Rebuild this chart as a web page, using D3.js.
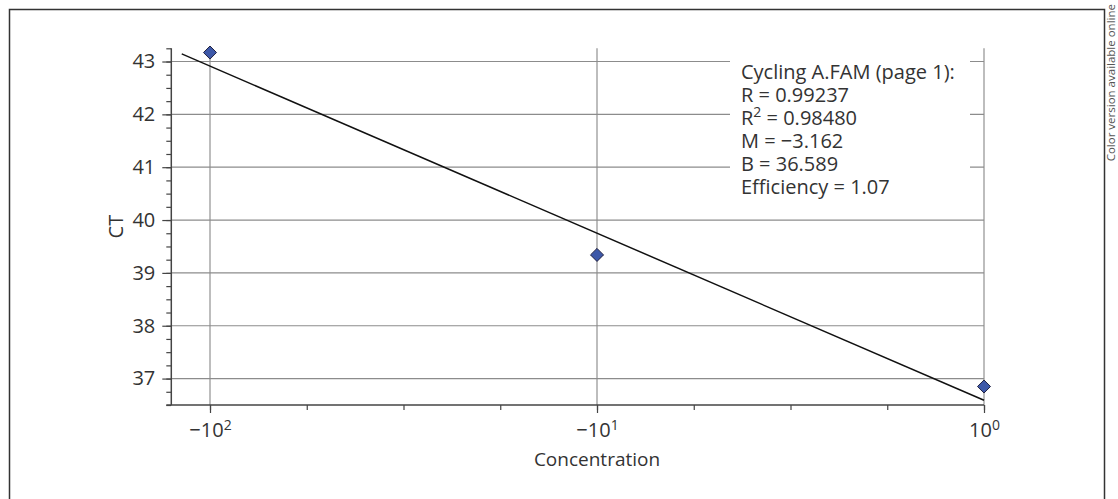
<!DOCTYPE html>
<html>
<head>
<meta charset="utf-8">
<script src="https://cdn.jsdelivr.net/npm/d3@7"></script>
<style>
  html, body { margin: 0; padding: 0; background: #fff; }
  svg { display: block; font-family: "Open Sans", sans-serif; }
</style>
</head>
<body>
<svg id="chart" width="1118" height="499"></svg>
<script>
// ---- data ----
const logConcentration = [-2, -1, 0];
const ctValues = [43.17, 39.34, 36.85];
const xTickValues = [-2, -1, 0];
const xTickBase = ["\u221210", "\u221210", "10"];
const xTickExp = ["2", "1", "0"];
const yTickValues = [37, 38, 39, 40, 41, 42, 43];
const fitSlope = -3.162;
const fitIntercept = 36.589;
const fitRange = [-2.073, 0];
const legendLines = [
  ["Cycling A.FAM (page 1):"],
  ["R = 0.99237"],
  ["R", "2", " = 0.98480"],
  ["M = \u22123.162"],
  ["B = 36.589"],
  ["Efficiency = 1.07"]
];
const xLabel = "Concentration";
const yLabel = "CT";
const sideNote = "Color version available online";

// ---- layout ----
const svg = d3.select("#chart");
const textColor = "#333";
const x = d3.scaleLinear().domain([-2.1, 0]).range([171.3, 984]);
const y = d3.scaleLinear().domain([36.5, 43.25]).range([405, 48.3]);
const [x0, x1] = x.range();
const [yb, yt] = y.range();

// frame
svg.append("rect").attr("x", 9.5).attr("y", 9.5).attr("width", 1095).attr("height", 520)
  .attr("fill", "none").attr("stroke", "#333").attr("stroke-width", 1.5);

// side note
svg.append("text")
  .attr("transform", "translate(1115,4) rotate(-90)")
  .attr("text-anchor", "end")
  .attr("font-size", 11.5).attr("fill", "#555")
  .text(sideNote);

// gridlines
svg.append("g").selectAll("line").data(xTickValues).join("line")
  .attr("x1", d => x(d)).attr("x2", d => x(d))
  .attr("y1", yt).attr("y2", yb)
  .attr("stroke", "#bdbdbd").attr("stroke-width", 2);
svg.append("g").selectAll("line").data(yTickValues).join("line")
  .attr("x1", x0).attr("x2", x1)
  .attr("y1", d => y(d)).attr("y2", d => y(d))
  .attr("stroke", "#8c8c8c").attr("stroke-width", 1.2);

// legend background
svg.append("rect").attr("x", 730).attr("y", 50).attr("width", 240).attr("height", 160).attr("fill", "#fff");

// axes
const yMinor = d3.range(36.5, 43.26, 0.25);
const xMinor = d3.range(-2, 0.001, 0.25);
svg.append("g").attr("transform", `translate(${x0},0)`)
  .call(d3.axisLeft(y).tickValues(yMinor).tickSize(5).tickFormat(""))
  .call(g => g.select(".domain").remove())
  .call(g => g.selectAll("line").attr("stroke", "#444").attr("stroke-width", 1.2));
svg.append("g").attr("transform", `translate(${x0},0)`)
  .call(d3.axisLeft(y).tickValues(yTickValues).tickSize(9).tickPadding(7).tickFormat(d3.format("d")))
  .call(g => g.select(".domain").remove())
  .call(g => g.selectAll("line").attr("stroke", "#444").attr("stroke-width", 1.2))
  .call(g => g.selectAll("text").attr("font-size", 20).attr("fill", textColor).attr("font-family", "Open Sans"));
svg.append("g").attr("transform", `translate(0,${yb})`)
  .call(d3.axisBottom(x).tickValues(xMinor).tickSize(5).tickFormat(""))
  .call(g => g.select(".domain").remove())
  .call(g => g.selectAll("line").attr("stroke", "#444").attr("stroke-width", 1.2));
const xAxisG = svg.append("g").attr("transform", `translate(0,${yb})`)
  .call(d3.axisBottom(x).tickValues(xTickValues).tickSize(8).tickPadding(10).tickFormat(""))
  .call(g => g.select(".domain").remove())
  .call(g => g.selectAll("line").attr("stroke", "#444").attr("stroke-width", 1.2));
xAxisG.selectAll(".tick text").each(function(d, i) {
  const t = d3.select(this).attr("font-size", 20).attr("fill", textColor).attr("font-family", "Open Sans")
    .attr("dy", "0.71em");
  t.append("tspan").text(xTickBase[i]);
  t.append("tspan").attr("font-size", 14).attr("dy", "-0.55em").text(xTickExp[i]);
});
// axis lines
svg.append("line").attr("x1", x0).attr("x2", x0).attr("y1", yt).attr("y2", yb)
  .attr("stroke", "#444").attr("stroke-width", 1.5);
svg.append("line").attr("x1", x0 - 5).attr("x2", x1).attr("y1", yb).attr("y2", yb)
  .attr("stroke", "#444").attr("stroke-width", 1.5);

// axis titles
svg.append("text").attr("x", x(-1)).attr("y", 466).attr("text-anchor", "middle")
  .attr("font-size", 19).attr("fill", textColor).text(xLabel);
svg.append("text").attr("transform", `translate(123,${(yt + yb) / 2}) rotate(-90)`)
  .attr("text-anchor", "middle").attr("font-size", 20).attr("fill", textColor).text(yLabel);

// regression line
svg.append("line")
  .attr("x1", x(fitRange[0])).attr("y1", y(fitSlope * fitRange[0] + fitIntercept))
  .attr("x2", x(fitRange[1])).attr("y2", y(fitSlope * fitRange[1] + fitIntercept))
  .attr("stroke", "#111").attr("stroke-width", 1.5);

// points
const sym = d3.symbol().type(d3.symbolSquare).size(85);
svg.append("g").selectAll("path").data(logConcentration).join("path")
  .attr("d", sym)
  .attr("transform", (d, i) => `translate(${x(d)},${y(ctValues[i])}) rotate(45)`)
  .attr("fill", "#3d58a8").attr("stroke", "#1c1c3c").attr("stroke-width", 0.9);

// legend text
const lg = svg.append("g").attr("font-size", 20).attr("fill", textColor);
legendLines.forEach((parts, i) => {
  const t = lg.append("text").attr("x", 741).attr("y", 79 + 23 * i);
  if (parts.length === 1) {
    t.text(parts[0]);
  } else {
    t.append("tspan").text(parts[0]);
    t.append("tspan").attr("font-size", 14).attr("dy", "-0.55em").text(parts[1]);
    t.append("tspan").attr("dy", "0.385em").text(parts[2]);
  }
});
</script>
</body>
</html>
